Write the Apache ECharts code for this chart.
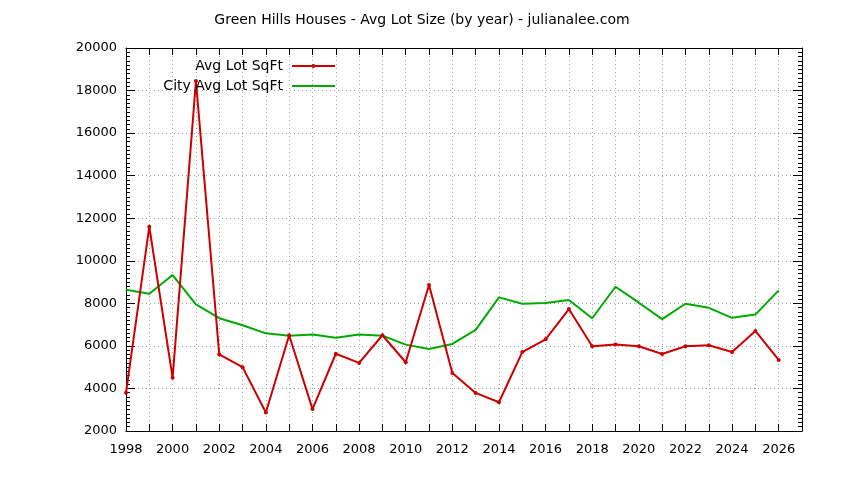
<!DOCTYPE html>
<html>
<head>
<meta charset="utf-8">
<script src="https://cdn.jsdelivr.net/npm/echarts@6/dist/echarts.min.js"></script>
<style>html,body{margin:0;padding:0;background:#fff}#c{width:844px;height:480px}</style>
</head>
<body>
<div id="c"></div>
<script>
const years = [1998,1999,2000,2001,2002,2003,2004,2005,2006,2007,2008,2009,2010,2011,2012,2013,2014,2015,2016,2017,2018,2019,2020,2021,2022,2023,2024,2025,2026];
const avgLot = [3800,11600,4500,18450,5600,5000,2870,6500,3030,5630,5200,6500,5230,8860,4730,3790,3350,5710,6310,7730,5980,6070,5980,5620,5980,6030,5710,6700,5340];
const cityAvgLot = [8640,8450,9330,7950,7300,6970,6590,6480,6530,6380,6540,6480,6060,5850,6090,6750,8280,7980,8020,8160,7300,8780,8030,7260,7980,7790,7320,7470,8610];
const titleText = 'Green Hills Houses - Avg Lot Size (by year) - julianalee.com';
const seriesNames = ['Avg Lot SqFt', 'City Avg Lot SqFt'];

const FONT = 'DejaVu Sans';
const chart = echarts.init(document.getElementById('c'), null, {renderer: 'canvas'});
const gridLine = {show: true, lineStyle: {color: '#a0a0a0', type: [1, 3], width: 1}};
const axisLine = {show: true, onZero: false, lineStyle: {color: '#000', width: 1}};
const legendBase = {
  orient: 'vertical', align: 'right', right: 508, padding: 0,
  itemWidth: 43, itemHeight: 5, selectedMode: false,
  textStyle: {fontFamily: FONT, fontSize: 14, color: '#000', padding: [0, 4, 0, 0]}
};
chart.setOption({
  animation: false,
  backgroundColor: '#fff',
  title: {text: titleText, left: 'center', top: 8, textStyle: {fontFamily: FONT, fontSize: 14, fontWeight: 'normal', color: '#000'}},
  legend: [
    Object.assign({}, legendBase, {top: 59, data: [seriesNames[0]]}),
    Object.assign({}, legendBase, {top: 79, data: [{name: seriesNames[1], itemStyle: {color: 'rgba(0,0,0,0)', borderWidth: 0}}]})
  ],
  grid: {left: 126, right: 42, top: 48, bottom: 49, containLabel: false},
  xAxis: [
    {type: 'value', min: 1998, max: 2027, interval: 1, position: 'bottom',
     axisLine: axisLine, axisTick: {show: true, inside: true, length: 7, lineStyle: {color: '#000'}},
     axisLabel: {fontFamily: FONT, fontSize: 13, color: '#000', margin: 12, showMaxLabel: true,
       formatter: v => (v % 2 === 0 ? String(v) : '')},
     splitLine: gridLine},
    {type: 'value', min: 1998, max: 2027, interval: 1, position: 'top',
     axisLine: axisLine, axisTick: {show: true, inside: true, length: 7, lineStyle: {color: '#000'}},
     axisLabel: {show: false}, splitLine: {show: false}}
  ],
  yAxis: [
    {type: 'value', min: 2000, max: 20000, interval: 2000, position: 'left',
     axisLine: axisLine, axisTick: {show: true, inside: true, length: 9, lineStyle: {color: '#000'}},
     minorTick: {show: true, splitNumber: 10, length: 4, lineStyle: {color: '#000'}},
     axisLabel: {fontFamily: FONT, fontSize: 13, color: '#000', margin: 9, formatter: v => String(v)},
     splitLine: gridLine},
    {type: 'value', min: 2000, max: 20000, interval: 2000, position: 'right',
     axisLine: axisLine, axisTick: {show: true, inside: true, length: 9, lineStyle: {color: '#000'}},
     minorTick: {show: true, splitNumber: 10, length: 4, lineStyle: {color: '#000'}},
     axisLabel: {show: false}, splitLine: {show: false}}
  ],
  series: [
    {name: seriesNames[0], type: 'line', xAxisIndex: 0, yAxisIndex: 0,
     data: years.map((y, i) => [y, avgLot[i]]),
     symbol: 'circle', symbolSize: 4, showSymbol: true,
     itemStyle: {color: '#cc0000'}, lineStyle: {color: '#cc0000', width: 2}, z: 3},
    {name: seriesNames[1], type: 'line', xAxisIndex: 0, yAxisIndex: 0,
     data: years.map((y, i) => [y, cityAvgLot[i]]),
     symbol: 'none',
     itemStyle: {color: '#00aa00'}, lineStyle: {color: '#00aa00', width: 2}, z: 2}
  ]
});
</script>
</body>
</html>
